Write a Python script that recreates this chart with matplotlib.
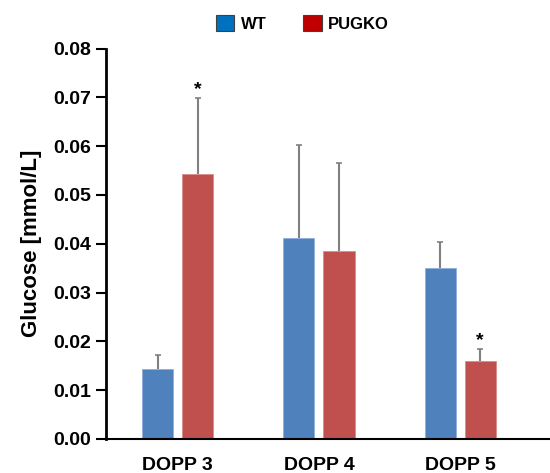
import matplotlib
matplotlib.use("Agg")
import matplotlib.pyplot as plt
import numpy as np
from matplotlib.patches import Patch

categories = ["DOPP 3", "DOPP 4", "DOPP 5"]
wt_values = [0.0143, 0.0412, 0.0351]
wt_err = [0.0029, 0.0191, 0.0052]
ko_values = [0.0544, 0.0385, 0.0159]
ko_err = [0.0155, 0.0181, 0.0025]
ko_sig = [True, False, True]
series_names = ["WT", "PUGKO"]
yticks = [0.00, 0.01, 0.02, 0.03, 0.04, 0.05, 0.06, 0.07, 0.08]

blue = "#4F81BD"
red = "#C0504D"

plt.rcParams['font.family'] = ['Liberation Sans', 'DejaVu Sans']
fig = plt.figure(figsize=(5.5, 4.73), dpi=100)
ax = fig.add_axes([0.1927, 0.0719, 0.8073, 0.8254])

x = np.arange(len(categories))
w = 0.22
off = 0.142
ax.bar(x - off, wt_values, w, color=blue, edgecolor="#8EAEDB", linewidth=0.6, zorder=2)
ax.bar(x + off, ko_values, w, color=red, edgecolor="#D98C8A", linewidth=0.6, zorder=2)
for xs, vals, errs in [(x - off, wt_values, wt_err), (x + off, ko_values, ko_err)]:
    _, caps, _ = ax.errorbar(xs, vals, yerr=[np.zeros(3), errs], fmt="none",
                             ecolor="#808080", elinewidth=1.5, capsize=2.5,
                             capthick=1.2, zorder=1)
    if len(caps) == 2:
        caps[0].set_visible(False)
for xi, v, e, s in zip(x, ko_values, ko_err, ko_sig):
    if s:
        ax.annotate("*", (xi + off, v + e), xytext=(0, 0), textcoords="offset points",
                    ha="center", va="bottom", fontsize=14, fontweight="bold")

ax.set_ylim(0, 0.08)
ax.set_xlim(-0.509, 2.637)
ax.set_yticks(yticks)
ax.set_yticklabels([f"{t:.2f}" for t in yticks], fontsize=14, fontweight="bold")
ax.set_xticks(x)
ax.set_xticklabels(categories, fontsize=14, fontweight="bold")
ax.tick_params(axis="x", length=0, pad=13)
ax.tick_params(axis="y", length=7, width=1.5, pad=4)
for sp in ["top", "right"]:
    ax.spines[sp].set_visible(False)
ax.spines["left"].set_linewidth(2)
ax.spines["bottom"].set_linewidth(1.5)
ax.set_ylabel("Glucose [mmol/L]", fontsize=16, fontweight="bold", labelpad=8)

handles = [Patch(facecolor="#0070C0", edgecolor="#404040", linewidth=0.8),
           Patch(facecolor="#C00000", edgecolor="#404040", linewidth=0.8)]
fig.legend(handles, series_names, loc="upper center", bbox_to_anchor=(0.55, 1.0),
           ncol=2, frameon=False, prop={"weight": "bold", "size": 12},
           handlelength=1.1, handleheight=1.1, handletextpad=0.4, columnspacing=2.2)

fig.savefig("out.png", dpi=100)
